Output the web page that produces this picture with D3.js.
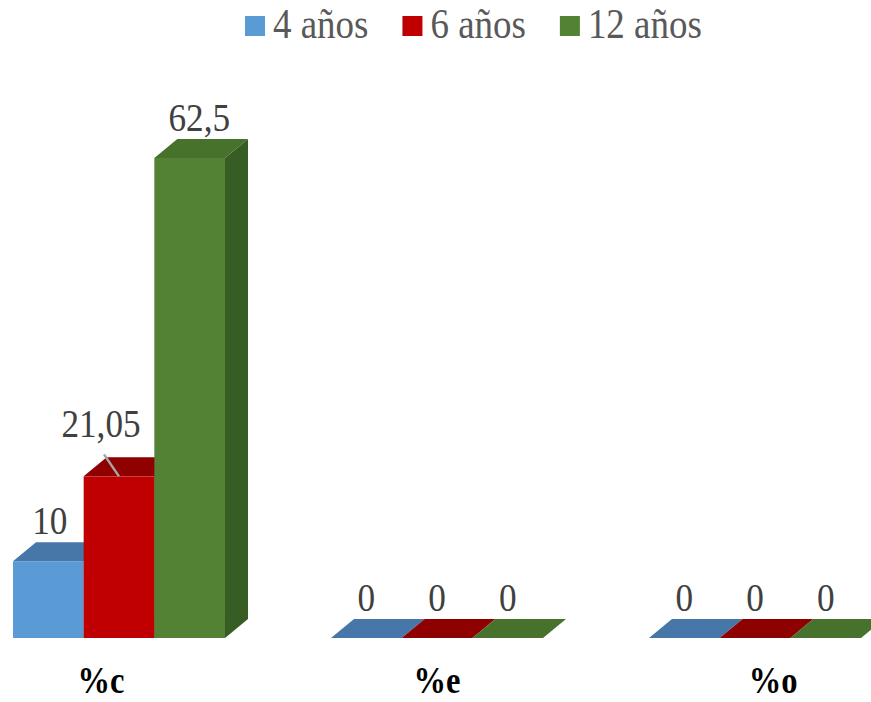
<!DOCTYPE html>
<html><head><meta charset="utf-8">
<script src="https://cdn.jsdelivr.net/npm/d3@7"></script>
<style>body{margin:0;background:#fff}svg{display:block}</style>
</head><body>
<script>
const categories = ["%c", "%e", "%o"];
const seriesNames = ["4 años", "6 años", "12 años"];
const values4 = [10, 0, 0];
const values6 = [21.05, 0, 0];
const values12 = [62.5, 0, 0];
const valueLabels4 = ["10", "0", "0"];
const valueLabels6 = ["21,05", "0", "0"];
const valueLabels12 = ["62,5", "0", "0"];

const W = 871, H = 702;
const frontColors = ["#5b9bd5", "#c00000", "#548235"];
const topColors = ["#4677a8", "#8f0000", "#46722c"];
const sideColors = ["#3f6d99", "#800000", "#385d24"];
const DX = 23, DY = 19;
const FONT = "'Liberation Serif','Times New Roman',serif";
const SX = 0.88;

const svg = d3.select("body").append("svg").attr("width", W).attr("height", H);

const x0 = d3.scaleBand().domain(categories).range([13, 861]).paddingInner(0.3333).paddingOuter(0);
const x1 = d3.scaleBand().domain(seriesNames).range([0, x0.bandwidth()]).padding(0);
const y = d3.scaleLinear().domain([0, 62.5]).range([638, 158]);

const series = [values4, values6, values12];
const labels = [valueLabels4, valueLabels6, valueLabels12];

function txt(g, x, yy, s, size, weight, fill) {
  return g.append("text")
    .attr("transform", `translate(${x},${yy}) scale(${SX},1)`)
    .attr("text-anchor", "middle")
    .attr("font-family", FONT)
    .attr("font-size", size)
    .attr("font-weight", weight || "normal")
    .attr("fill", fill || "#404040")
    .text(s);
}

const bars = svg.append("g");
categories.forEach((c, ci) => {
  seriesNames.forEach((s, si) => {
    const v = series[si][ci];
    const xl = x0(c) + x1(s), w = x1.bandwidth();
    const yt = y(v), yb = y(0);
    const g = bars.append("g");
    g.append("path")
      .attr("d", `M${xl + w},${yb} L${xl + w + DX},${yb - DY} L${xl + w + DX},${yt - DY} L${xl + w},${yt} Z`)
      .attr("fill", sideColors[si]);
    g.append("path")
      .attr("d", `M${xl},${yt} L${xl + DX},${yt - DY} L${xl + w + DX},${yt - DY} L${xl + w},${yt} Z`)
      .attr("fill", topColors[si]);
    g.append("rect")
      .attr("x", xl).attr("y", yt).attr("width", w).attr("height", yb - yt)
      .attr("fill", frontColors[si]);
  });
});

const lg = svg.append("g");
categories.forEach((c, ci) => {
  seriesNames.forEach((s, si) => {
    const v = series[si][ci];
    const xl = x0(c) + x1(s), w = x1.bandwidth();
    const yt = y(v);
    let cx = xl + w / 2 + (y(0) - yt) * 0.02;
    let by = yt - DY - 8;
    if (labels[si][ci] === "21,05") {
      const lx = xl + w / 2;
      lg.append("line")
        .attr("x1", lx - 15).attr("y1", yt - DY - 3)
        .attr("x2", lx).attr("y2", yt)
        .attr("stroke", "#a6a6a6").attr("stroke-width", 2.5);
      cx = lx - 18;
      by = yt - DY - 20;
    }
    txt(lg, cx, by, labels[si][ci], 40);
  });
});

categories.forEach((c) => {
  const gc = x0(c) + x0.bandwidth() / 2;
  const lx = 437 + (gc - 437) * 1.057;
  txt(svg, lx, 693, c, 37, "bold", "#000");
});

const leg = svg.append("g");
let lx = 245;
seriesNames.forEach((s, si) => {
  leg.append("rect").attr("x", lx).attr("y", 16).attr("width", 20).attr("height", 20).attr("fill", frontColors[si]);
  const t = leg.append("text")
    .attr("transform", `translate(${lx + 28},38) scale(${SX},1)`)
    .attr("font-family", FONT).attr("font-size", 42).attr("fill", "#595959").text(s);
  const tw = t.node().getComputedTextLength() * SX;
  lx = lx + 28 + tw + 34;
});
</script>
</body></html>
